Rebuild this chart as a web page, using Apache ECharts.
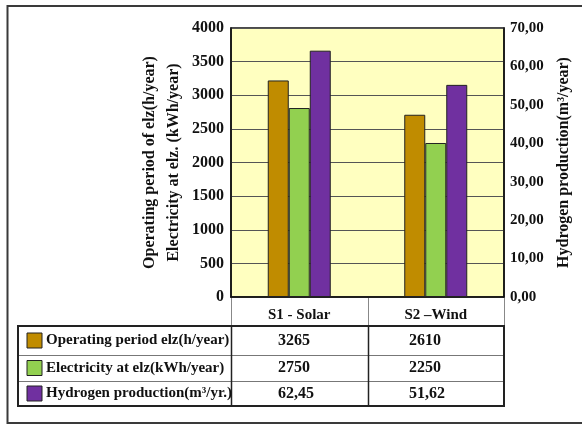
<!DOCTYPE html>
<html>
<head>
<meta charset="utf-8">
<script src="https://cdn.jsdelivr.net/npm/echarts@6/dist/echarts.min.js"></script>
<style>
html,body{margin:0;padding:0;background:#fff;}
#chart{width:582px;height:426px;}
</style>
</head>
<body>
<div id="chart"></div>
<script>
// ---- data ----
const categories = ['S1 - Solar', 'S2 \u2013Wind'];
const seriesNames = ['Operating period elz(h/year)', 'Electricity at elz(kWh/year)', 'Hydrogen production(m\u00b3/yr.)'];
// bar heights as drawn in the picture
const operatingHours = [3220, 2710];
const electricity = [2810, 2290];
const hydrogen = [64.1, 55.2];
// values printed in the data table
const tableOperating = ['3265', '2610'];
const tableElectricity = ['2750', '2250'];
const tableHydrogen = ['62,45', '51,62'];
const leftTicks = {min: 0, max: 4000, interval: 500};
const rightTicks = {min: 0, max: 70, interval: 10};
const colors = ['#C08C00', '#92D050', '#7030A0'];

// ---- layout ----
const FONT = "'Liberation Serif', 'Times New Roman', serif";
const gx0 = 231, gx1 = 504, gy0 = 28, gy1 = 297;
const catW = (gx1 - gx0) / categories.length;
const tLeft = 18, rowY = [326, 355, 381, 406];

const chart = echarts.init(document.getElementById('chart'));

const graphics = [];
// outer frame
graphics.push({type: 'polyline', shape: {points: [[582, 6], [7.5, 6], [7.5, 423], [582, 423]]},
  style: {stroke: '#3a3a3a', lineWidth: 2, fill: null}});
// header row column lines
for (let i = 0; i <= categories.length; i++) {
  const x = Math.round(gx0 + i * catW) + 0.5;
  graphics.push({type: 'line', shape: {x1: x, y1: gy1, x2: x, y2: rowY[0]}, style: {stroke: '#888', lineWidth: 1}});
}
// table inner horizontal lines
for (let r = 1; r < rowY.length - 1; r++) {
  graphics.push({type: 'line', shape: {x1: tLeft, y1: rowY[r] + 0.5, x2: gx1, y2: rowY[r] + 0.5}, style: {stroke: '#777', lineWidth: 1}});
}
// table column lines
for (let i = 0; i < categories.length; i++) {
  const x = Math.round(gx0 + i * catW) + 0.5;
  graphics.push({type: 'line', shape: {x1: x, y1: rowY[0], x2: x, y2: rowY[rowY.length - 1]}, style: {stroke: '#222', lineWidth: 1.5}});
}
// table outer box
graphics.push({type: 'rect', shape: {x: tLeft, y: rowY[0], width: gx1 - tLeft, height: rowY[rowY.length - 1] - rowY[0]},
  style: {stroke: '#222', lineWidth: 2, fill: null}});
// rows
const tableRows = [tableOperating, tableElectricity, tableHydrogen];
const valueX = [278, 409];
for (let r = 0; r < seriesNames.length; r++) {
  const cy = (rowY[r] + rowY[r + 1]) / 2;
  graphics.push({type: 'rect', shape: {x: 27, y: cy - 7.5, width: 15, height: 15},
    style: {fill: colors[r], stroke: '#222', lineWidth: 1}});
  graphics.push({type: 'text', x: 46, y: cy, style: {text: seriesNames[r], font: 'bold 15px ' + FONT,
    fill: '#111', textVerticalAlign: 'middle', textAlign: 'left'}});
  for (let c = 0; c < categories.length; c++) {
    graphics.push({type: 'text', x: valueX[c], y: cy, style: {text: tableRows[r][c], font: 'bold 16px ' + FONT,
      fill: '#111', textVerticalAlign: 'middle', textAlign: 'left'}});
  }
}

const commaFmt = v => v.toFixed(2).replace('.', ',');

chart.setOption({
  animation: false,
  backgroundColor: '#fff',
  grid: {left: gx0, top: gy0, width: gx1 - gx0, height: gy1 - gy0, show: true,
    backgroundColor: '#FFFFC0', borderColor: '#111', borderWidth: 1.5},
  xAxis: {type: 'category', data: categories,
    axisLine: {show: true, lineStyle: {color: '#111', width: 1.5}},
    axisTick: {show: false},
    axisLabel: {fontFamily: FONT, fontWeight: 'bold', fontSize: 15, color: '#111', margin: 11}},
  yAxis: [
    {type: 'value', min: leftTicks.min, max: leftTicks.max, interval: leftTicks.interval,
      name: 'Operating period of elz(h/year)\nElectricity at elz. (kWh/year)',
      nameLocation: 'middle', nameGap: 45, nameRotate: 90,
      nameTextStyle: {fontFamily: FONT, fontWeight: 'bold', fontSize: 16, color: '#111', lineHeight: 24},
      axisLine: {show: true, lineStyle: {color: '#111', width: 1.5}},
      axisTick: {show: false},
      axisLabel: {fontFamily: FONT, fontWeight: 'bold', fontSize: 16, color: '#111', margin: 7, formatter: v => String(v)},
      splitLine: {show: true, lineStyle: {color: '#555', width: 1}}},
    {type: 'value', min: rightTicks.min, max: rightTicks.max, interval: rightTicks.interval,
      name: 'Hydrogen production(m\u00b3/year)',
      nameLocation: 'middle', nameGap: 52, nameRotate: 90,
      nameTextStyle: {fontFamily: FONT, fontWeight: 'bold', fontSize: 16, color: '#111'},
      axisLine: {show: true, lineStyle: {color: '#111', width: 1.5}},
      axisTick: {show: false},
      axisLabel: {fontFamily: FONT, fontWeight: 'bold', fontSize: 15, color: '#111', margin: 6, formatter: commaFmt},
      splitLine: {show: false}}
  ],
  series: [
    {name: seriesNames[0], type: 'bar', yAxisIndex: 0, data: operatingHours, barWidth: 21, barGap: '0%',
      itemStyle: {color: colors[0], borderColor: '#222', borderWidth: 1}},
    {name: seriesNames[1], type: 'bar', yAxisIndex: 0, data: electricity, barWidth: 21, barGap: '0%',
      itemStyle: {color: colors[1], borderColor: '#222', borderWidth: 1}},
    {name: seriesNames[2], type: 'bar', yAxisIndex: 1, data: hydrogen, barWidth: 21, barGap: '0%',
      itemStyle: {color: colors[2], borderColor: '#222', borderWidth: 1}}
  ],
  graphic: graphics
});
</script>
</body>
</html>
